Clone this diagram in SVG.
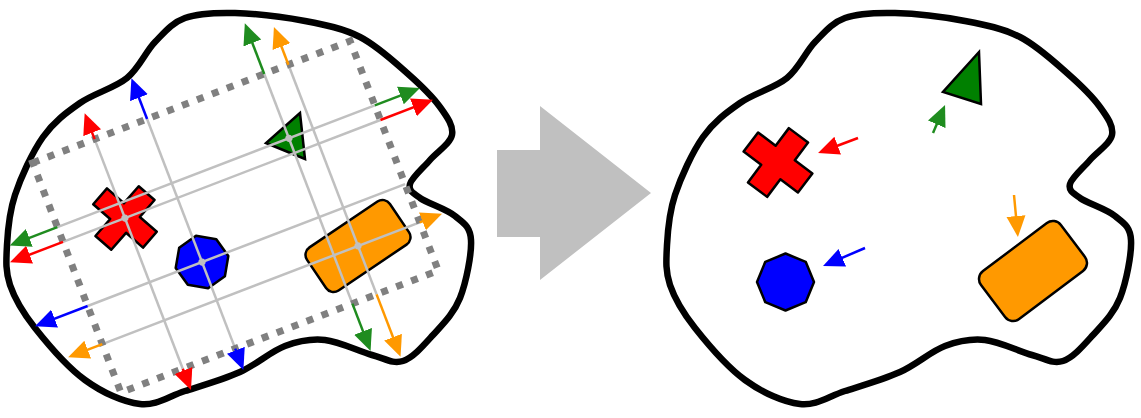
<svg xmlns="http://www.w3.org/2000/svg" xmlns:xlink="http://www.w3.org/1999/xlink" width="1141" height="418" viewBox="0 0 1141 418">
<style>
.blob{fill:#fff;stroke:#000;stroke-width:6.5;stroke-linejoin:round}
.grid{stroke:#c0c0c0;stroke-width:2.5;fill:none}
.gdot{fill:#c0c0c0}
.dots{fill:none;stroke:#808080;stroke-width:7;stroke-dasharray:7 9}
.shape{stroke:#000;stroke-width:2.5;stroke-linejoin:round}
.tri{stroke:#000;stroke-width:2.5;stroke-linejoin:miter}
.red{stroke:#ff0000;stroke-width:2.5;fill:none}
.blue{stroke:#0000ff;stroke-width:2.5;fill:none}
.green{stroke:#1f8c1f;stroke-width:2.5;fill:none}
.orange{stroke:#ff9900;stroke-width:2.5;fill:none}
</style>
<defs>
<path id="blob" d="M127,78 C139.5,67.8 145.3,52 155,42 C164.7,32 171.7,22.8 185,18 C198.3,13.2 215,12.5 235,13 C255,13.5 284.2,17 305,21 C325.8,25 343,28.3 360,37 C377,45.7 393.7,61.3 407,73 C420.3,84.7 432.5,96.7 440,107 C447.5,117.3 453.7,126.2 452,135 C450.3,143.8 437,151.8 430,160 C423,168.2 411.7,177.7 410,184 C408.3,190.3 412.5,192.7 420,198 C427.5,203.3 446.5,209 455,216 C463.5,223 470.2,226.3 471,240 C471.8,253.7 466.3,282.2 460,298 C453.7,313.8 442.5,324.5 433,335 C423.5,345.5 413.2,357.7 403,361 C392.8,364.3 385,358.5 372,355 C359,351.5 339.5,341.5 325,340 C310.5,338.5 299.2,340.7 285,346 C270.8,351.3 256.7,364.5 240,372 C223.3,379.5 201.7,385.7 185,391 C168.3,396.3 156.7,405.8 140,404 C123.3,402.2 102.5,392.7 85,380 C67.5,367.3 47.5,343.8 35,328 C22.5,312.2 14.7,298.8 10,285 C5.3,271.2 6.2,260 7,245 C7.8,230 9,213 15,195 C21,177 32.2,152.3 43,137 C53.8,121.7 66,112.8 80,103 C94,93.2 114.5,88.2 127,78 Z"/>
<marker id="mr" viewBox="0 0 21 21" markerWidth="21" markerHeight="21" refX="11" refY="10.5" orient="auto" markerUnits="userSpaceOnUse"><path d="M0,1 L21,10.5 L0,20 Z" fill="#ff0000"/></marker>
<marker id="mb" viewBox="0 0 21 21" markerWidth="21" markerHeight="21" refX="11" refY="10.5" orient="auto" markerUnits="userSpaceOnUse"><path d="M0,1 L21,10.5 L0,20 Z" fill="#0000ff"/></marker>
<marker id="mg" viewBox="0 0 21 21" markerWidth="21" markerHeight="21" refX="11" refY="10.5" orient="auto" markerUnits="userSpaceOnUse"><path d="M0,1 L21,10.5 L0,20 Z" fill="#1f8c1f"/></marker>
<marker id="mo" viewBox="0 0 21 21" markerWidth="21" markerHeight="21" refX="11" refY="10.5" orient="auto" markerUnits="userSpaceOnUse"><path d="M0,1 L21,10.5 L0,20 Z" fill="#ff9900"/></marker>
</defs>
<rect width="1141" height="418" fill="#fff"/>

<g id="left-panel">
<use xlink:href="#blob" href="#blob" class="blob"/>
<g id="left-shapes">
<path id="left-cross" class="shape" fill="#ff0000" transform="translate(125,218) rotate(41)" d="M-10.5,-33 H10.5 V-10.5 H33 V10.5 H10.5 V33 H-10.5 V10.5 H-33 V-10.5 H-10.5 Z"/>
<polygon id="left-octagon" class="shape" fill="#0000ff" points="196,235.7 216.3,239.2 228.3,256 224.9,276.3 208.1,288.3 187.8,284.8 175.7,268 179.2,247.7"/>
<polygon id="left-triangle" class="tri" fill="#008000" points="300,113 266,143 305,159"/>
<rect id="left-rect" class="shape" fill="#ff9900" x="-50" y="-26" width="100" height="52" rx="9" transform="translate(358,246) rotate(-34)"/>
</g>
<g id="projection-grid" transform="translate(235.5,216.75) rotate(-21)">
<g class="grid">
<line x1="-170" y1="-38.4" x2="170" y2="-38.4"/>
<line x1="-170" y1="30.3" x2="170" y2="30.3"/>
<line x1="-170" y1="-54.1" x2="170" y2="-54.1"/>
<line x1="-170" y1="71.2" x2="170" y2="71.2"/>
<line x1="-103.7" y1="-123" x2="-103.7" y2="123"/>
<line x1="-47.5" y1="-123" x2="-47.5" y2="123"/>
<line x1="78" y1="-123" x2="78" y2="123"/>
<line x1="103.9" y1="-123" x2="103.9" y2="123"/>
</g>
<rect class="dots" x="-170" y="-123" width="340" height="246"/>
<g id="connectors">
<line class="red" x1="170" y1="-38.4" x2="216.3" y2="-38.4" marker-end="url(#mr)"/>
<line class="red" x1="-170" y1="-38.4" x2="-216.8" y2="-38.4" marker-end="url(#mr)"/>
<line class="red" x1="-103.7" y1="-123" x2="-103.7" y2="-140.8" marker-end="url(#mr)"/>
<line class="red" x1="-103.7" y1="123" x2="-103.7" y2="135.9" marker-end="url(#mr)"/>
<line class="blue" x1="-170" y1="30.3" x2="-216.4" y2="30.3" marker-end="url(#mb)"/>
<line class="blue" x1="-47.5" y1="-123" x2="-47.5" y2="-156.7" marker-end="url(#mb)"/>
<line class="blue" x1="-47.5" y1="123" x2="-47.5" y2="135.8" marker-end="url(#mb)"/>
<line class="green" x1="170" y1="-54.1" x2="208.4" y2="-54.1" marker-end="url(#mg)"/>
<line class="green" x1="-170" y1="-54.1" x2="-211.1" y2="-54.1" marker-end="url(#mg)"/>
<line class="green" x1="78" y1="-123" x2="78" y2="-167.2" marker-end="url(#mg)"/>
<line class="green" x1="78" y1="123" x2="78" y2="163.7" marker-end="url(#mg)"/>
<line class="orange" x1="170" y1="71.2" x2="183.9" y2="71.2" marker-end="url(#mo)"/>
<line class="orange" x1="-170" y1="71.2" x2="-196.6" y2="71.2" marker-end="url(#mo)"/>
<line class="orange" x1="103.9" y1="-123" x2="103.9" y2="-153.4" marker-end="url(#mo)"/>
<line class="orange" x1="103.9" y1="123" x2="103.9" y2="179.9" marker-end="url(#mo)"/>
</g>
<g class="gdot">
<circle cx="-103.7" cy="-38.4" r="3.5"/>
<circle cx="-47.5" cy="30.3" r="3.5"/>
<circle cx="78" cy="-54.1" r="3.5"/>
<circle cx="103.9" cy="71.2" r="3.5"/>
</g>
</g>
</g>

<g id="transition-arrow">
<polygon fill="#c0c0c0" points="497,150 540,150 540,106 651,193 540,280 540,237 497,237"/>
</g>

<g id="right-panel">
<use xlink:href="#blob" href="#blob" class="blob" transform="translate(660,0)"/>
<g id="right-cross"><path class="shape" fill="#ff0000" transform="translate(778,162.5) rotate(37)" d="M-12,-34 H12 V-12 H34 V12 H12 V34 H-12 V12 H-34 V-12 H-12 Z"/></g>
<g id="right-triangle"><polygon class="tri" fill="#008000" points="979,52 943,92 981,104"/></g>
<g id="right-octagon"><polygon class="shape" fill="#0000ff" points="785.5,253.5 805.7,261.8 814,282 805.7,302.2 785.5,310.5 765.3,302.2 757,282 765.3,261.8"/></g>
<g id="right-rect"><rect class="shape" fill="#ff9900" x="-50" y="-30" width="100" height="60" rx="10" transform="translate(1033,271) rotate(-37)"/></g>
<g id="right-connectors">
<line class="red" x1="858" y1="138" x2="827.4" y2="149.5" marker-end="url(#mr)"/>
<line class="green" x1="933" y1="133" x2="941.1" y2="114.2" marker-end="url(#mg)"/>
<line class="blue" x1="865" y1="248" x2="832.2" y2="262.1" marker-end="url(#mb)"/>
<line class="orange" x1="1014" y1="195" x2="1017" y2="227" marker-end="url(#mo)"/>
</g>
</g>
</svg>
